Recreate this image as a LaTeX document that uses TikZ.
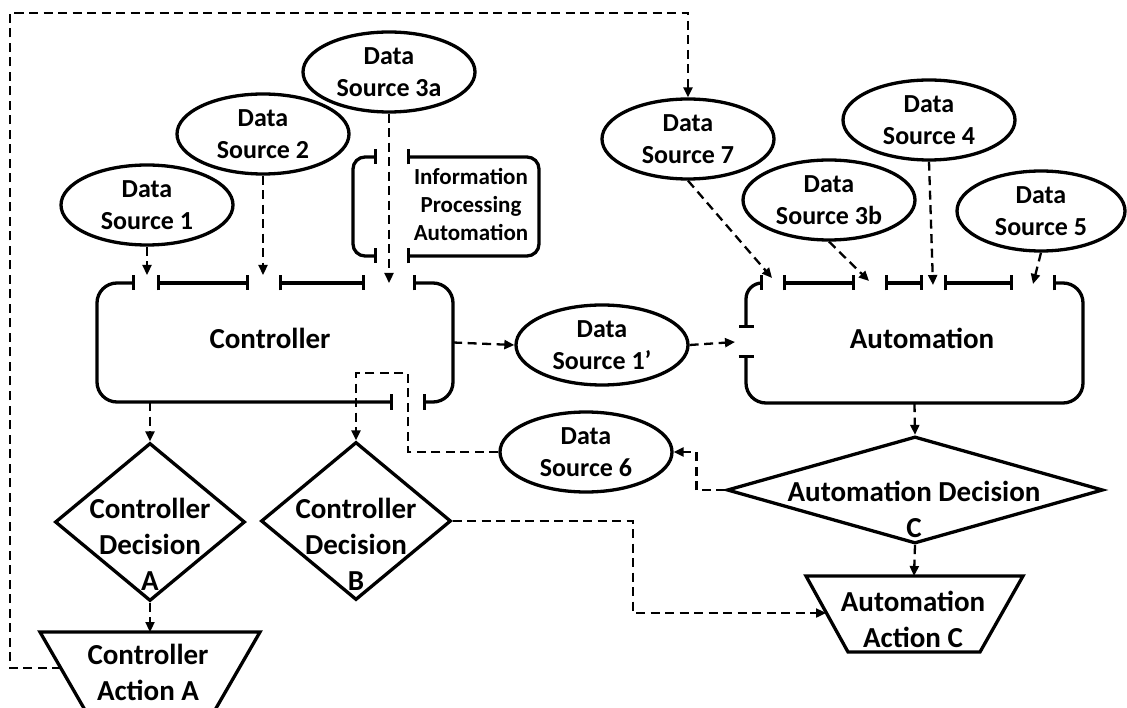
\documentclass[tikz,border=0pt]{standalone}
\usepackage{fontspec}
\setmainfont{Carlito}
\usetikzlibrary{shapes.geometric,arrows.meta}
\tikzset{
  thk/.style={line width=3.3pt},
  seg/.style={thk, {Bar[width=15pt]}-{Bar[width=15pt]}},
  src/.style={ellipse, draw, thk, minimum width=172pt, minimum height=80pt, inner sep=0pt, align=center, font=\fontsize{26}{32}\selectfont\bfseries},
  dec/.style={diamond, draw, thk, inner sep=0pt},
  big/.style={align=center, font=\fontsize{29}{36}\selectfont\bfseries},
  small/.style={align=center, font=\fontsize{23}{28}\selectfont\bfseries},
  flow/.style={line width=2.3pt, dash pattern=on 9pt off 5.5pt, -{Triangle[length=10pt,width=9pt]}},
}
\begin{document}
\begin{tikzpicture}[x=1pt,y=-1pt]
\path[fill=white, use as bounding box] (0,0) rectangle (1127,708);

% ---- Controller box ----
\node[minimum width=356pt, minimum height=119pt] (ctrl) at (275,342.5) {};
\node[big] (ctrltext) at (270,338) {Controller};
\draw[seg, rounded corners=20pt] (135,283) -- (97,283) -- (97,402) -- (393,402);
\draw[seg] (157,283) -- (249,283);
\draw[seg] (279,283) -- (365,283);
\draw[seg, rounded corners=20pt] (413,283) -- (453,283) -- (453,402) -- (423,402);

% ---- Information Processing Automation box ----
\node[small] (ipa) at (471,205) {Information\\Processing\\Automation};
\draw[seg, rounded corners=12pt] (377,157) -- (353,157) -- (353,256) -- (377,256);
\draw[seg, rounded corners=12pt] (407,157) -- (539,157) -- (539,256) -- (407,256);

% ---- Automation box ----
\node[minimum width=337pt, minimum height=120pt] (auto) at (914.5,343) {};
\node[big] (autotext) at (922,338) {Automation};
\draw[seg, rounded corners=16pt] (763,283) -- (746,283) -- (746,328);
\draw[seg] (783,283) -- (855,283);
\draw[seg] (885,283) -- (923,283);
\draw[seg] (944,283) -- (1013,283);
\draw[seg, rounded corners=20pt] (1053,283) -- (1083,283) -- (1083,403) -- (746,403) -- (746,355);

% ---- Data sources ----
\node[src] (ds1) at (147,205) {Data\\Source 1};
\node[src] (ds2) at (263,134) {Data\\Source 2};
\node[src] (ds3a) at (389,72) {Data\\Source 3a};
\node[src] (ds7) at (688,139) {Data\\Source 7};
\node[src] (ds3b) at (829,200) {Data\\Source 3b};
\node[src] (ds4) at (929,120) {Data\\Source 4};
\node[src, minimum width=168pt] (ds5) at (1041,211) {Data\\Source 5};
\node[src] (ds1p) at (602,345) {Data\\Source 1’};
\node[src] (ds6) at (586,452) {Data\\Source 6};

% ---- Decisions ----
\node[dec, minimum width=190pt, minimum height=158pt] (dA) at (150,522) {};
\node[big] (dAtext) at (150,544) {Controller\\Decision\\A};
\node[dec, minimum width=190pt, minimum height=158pt] (dB) at (356,521) {};
\node[big] (dBtext) at (356,544) {Controller\\Decision\\B};
\node[dec, minimum width=376pt, minimum height=107pt] (adec) at (915,490) {};
\node[big] (adectext) at (914,509) {Automation Decision\\C};

% ---- Actions ----
\draw[thk] (40,632) -- (260,632) -- (215,710) -- (85,710) -- cycle;
\node[big] (aAtext) at (148,672) {Controller\\Action A};
\draw[thk] (806,576) -- (1023,576) -- (980,652) -- (848,652) -- cycle;
\node[big] (aCtext) at (913,619) {Automation\\Action C};

% ---- connector end points ----
\coordinate (g1) at (147,275);
\coordinate (g2) at (263,275);
\coordinate (g3a) at (389,283);
\coordinate (g7) at (772,278);
\coordinate (g3b) at (869,281);
\coordinate (g4) at (933,285);
\coordinate (g5) at (1033,284);
\coordinate (gA) at (735,342);
\coordinate (aAtop) at (150,632);
\coordinate (aAleft) at (61,668);
\coordinate (aCtop) at (914,576);
\coordinate (aCleft) at (826,613);

% ---- connectors ----
\draw[flow] (ds1.south) -- (g1);
\draw[flow] (ds2.south) -- (g2);
\draw[flow] (ds3a.south) -- (g3a);
\draw[flow] (ds7.south) -- (g7);
\draw[flow] (ds3b.south) -- (g3b);
\draw[flow] (ds4.south) -- (g4);
\draw[flow] (ds5.south) -- (g5);
\draw[flow] (ctrl.east) -- (ds1p.west);
\draw[flow] (ds1p.east) -- (gA);
\draw[flow] (dA.north |- ctrl.south) -- (dA.north);
\draw[flow] (dA.south) -- (aAtop);
\draw[flow] (ds6.west) -| (408,373) -| (dB.north);
\draw[flow] (adec.west) -- ++(-29,0) |- (ds6.east);
\draw[flow] (dB.east) -| (633,613) -- (aCleft);
\draw[flow] (auto.south) -- (adec.north);
\draw[flow] (adec.south) -- (aCtop);
\draw[flow] (aAleft) -| (10,13) -| (ds7.north);
\end{tikzpicture}
\end{document}
